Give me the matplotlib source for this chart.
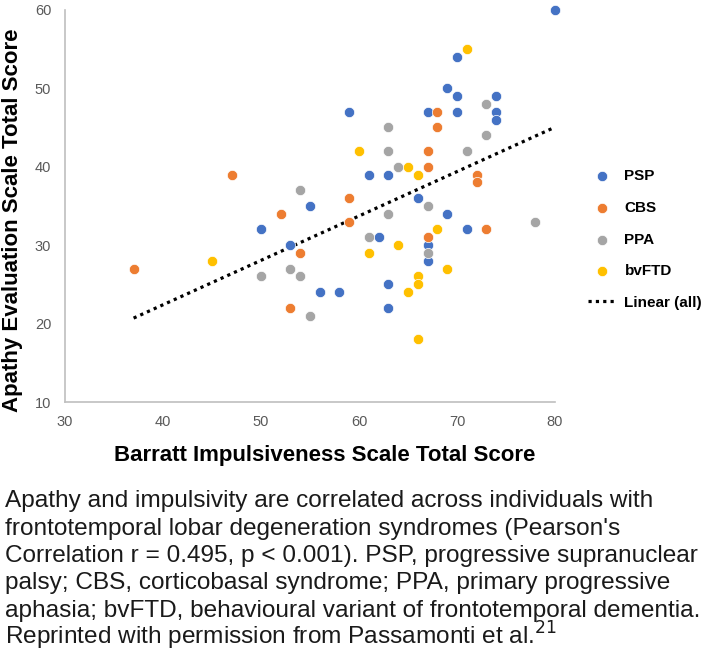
import numpy as np
import matplotlib
matplotlib.use("Agg")
import matplotlib.pyplot as plt

plt.rcParams['font.family'] = ['Liberation Sans', 'DejaVu Sans']

# Barratt (x) and Apathy (y) scores per group
psp_x = [80, 70, 69, 70, 74, 59, 67, 70, 74, 74, 61, 63, 66, 55, 50, 53, 56, 69, 71, 62, 67, 67, 63, 58, 63]
psp_y = [60, 54, 50, 49, 49, 47, 47, 47, 47, 46, 39, 39, 36, 35, 32, 30, 24, 34, 32, 31, 30, 28, 25, 24, 22]

cbs_x = [47, 68, 68, 67, 67, 72, 72, 59, 52, 54, 37, 53, 59, 73, 67]
cbs_y = [39, 47, 45, 42, 40, 39, 38, 36, 34, 29, 27, 22, 33, 32, 31]

ppa_x = [54, 73, 63, 73, 63, 71, 64, 53, 50, 54, 55, 67, 63, 78, 61, 67]
ppa_y = [37, 48, 45, 44, 42, 42, 40, 27, 26, 26, 21, 35, 34, 33, 31, 29]

ftd_x = [71, 60, 65, 66, 45, 68, 64, 61, 69, 66, 66, 65, 66]
ftd_y = [55, 42, 40, 39, 28, 32, 30, 29, 27, 26, 25, 24, 18]

groups = ['PSP', 'CBS', 'PPA', 'bvFTD']
colors = ['#4472C4', '#ED7D31', '#A5A5A5', '#FFC000']

caption_lines = [
    "Apathy and impulsivity are correlated across individuals with",
    "frontotemporal lobar degeneration syndromes (Pearson's",
    "Correlation r = 0.495, p < 0.001). PSP, progressive supranuclear",
    "palsy; CBS, corticobasal syndrome; PPA, primary progressive",
    "aphasia; bvFTD, behavioural variant of frontotemporal dementia.",
    "Reprinted with permission from Passamonti et al.$^{21}$",
]

fig = plt.figure(figsize=(7.09, 6.67), dpi=100)
ax = fig.add_axes([0.0917, 0.3973, 0.691, 0.588])

data = [(psp_x, psp_y), (cbs_x, cbs_y), (ppa_x, ppa_y), (ftd_x, ftd_y)]
for (xs, ys), name, c in zip(data, groups, colors):
    ax.scatter(xs, ys, s=55, color=c, edgecolors='white', linewidths=0.5,
               label=name, zorder=3, clip_on=False)

# linear trend over all points
all_x = np.concatenate([d[0] for d in data])
all_y = np.concatenate([d[1] for d in data])
slope, icpt = np.polyfit(all_x, all_y, 1)
xx = np.array([all_x.min(), all_x.max()])
ax.plot(xx, slope * xx + icpt, color='black', linestyle=(0, (1, 1.3)),
        linewidth=2.3, label='Linear (all)', zorder=2)

ax.set_xlim(30, 80)
ax.set_ylim(10, 60)
ax.set_xticks(range(30, 81, 10))
ax.set_yticks(range(10, 61, 10))
ax.tick_params(length=0, labelsize=10.5, labelcolor='#595959')
ax.tick_params(axis='y', pad=10)
ax.tick_params(axis='x', pad=9)
for s in ['top', 'right']:
    ax.spines[s].set_visible(False)
for s in ['left', 'bottom']:
    ax.spines[s].set_color('#BFBFBF')
    ax.spines[s].set_linewidth(1.2)

fig.text(325 / 709, 1 - 455 / 667, 'Barratt Impulsiveness Scale Total Score',
         ha='center', va='center', fontsize=16, fontweight='bold')
fig.text(13 / 709, 1 - 220 / 667, 'Apathy Evaluation Scale Total Score',
         ha='center', va='center', rotation=90, fontsize=16, fontweight='bold')

ax.legend(loc='upper left', bbox_to_anchor=(1.039, 0.628), frameon=False,
          handlelength=1.8, handletextpad=0.6, labelspacing=1.15,
          prop={'weight': 'bold', 'size': 11})

for i, line in enumerate(caption_lines):
    fig.text(5 / 709, 1 - (507 + i * 27.5) / 667, line, ha='left',
             va='baseline', fontsize=17.6, color='#1a1a1a')

fig.savefig('out.png', dpi=100)
